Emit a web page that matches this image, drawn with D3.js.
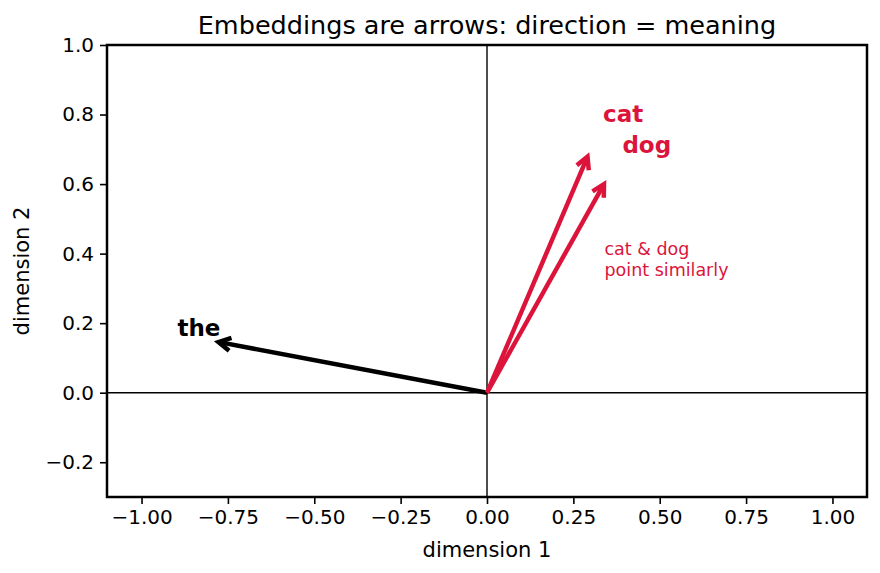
<!DOCTYPE html>
<html><head><meta charset="utf-8">
<script src="https://cdn.jsdelivr.net/npm/d3@7"></script>
<style>body{margin:0;background:#fff}svg text{font-family:"DejaVu Sans",sans-serif}</style>
</head><body><svg id="c" width="880" height="573"></svg>
<script>
const words = ["the", "cat", "dog"];
const vecX = [-0.8, 0.3, 0.35];
const vecY = [0.15, 0.7, 0.62];
const wordColors = ["#000000", "#dc143c", "#dc143c"];
const xTicks = [-1.0, -0.75, -0.5, -0.25, 0.0, 0.25, 0.5, 0.75, 1.0];
const yTicks = [-0.2, 0.0, 0.2, 0.4, 0.6, 0.8, 1.0];
const noteLines = ["cat & dog", "point similarly"];
const notePos = [0.34, 0.395];
const labelScale = 1.12;

const svg = d3.select("#c");
const L = 107, R = 867, T = 45, B = 497;
const x = d3.scaleLinear().domain([-1.1, 1.1]).range([L, R]);
const y = d3.scaleLinear().domain([-0.3, 1.0]).range([B, T]);

// zero lines
svg.append("line").attr("x1", x(0)).attr("x2", x(0)).attr("y1", T).attr("y2", B).attr("stroke", "#000").attr("stroke-width", 1.4);
svg.append("line").attr("x1", L).attr("x2", R).attr("y1", y(0)).attr("y2", y(0)).attr("stroke", "#000").attr("stroke-width", 1.4);

// axes
const fmtX = d => d3.format(".2f")(d).replace("-", "\u2212");
const fmtY = d => d3.format(".1f")(d).replace("-", "\u2212");
const gx = svg.append("g").attr("transform", `translate(0,${B})`)
  .call(d3.axisBottom(x).tickValues(xTicks).tickFormat(fmtX).tickSize(7).tickPadding(6));
const gy = svg.append("g").attr("transform", `translate(${L},0)`)
  .call(d3.axisLeft(y).tickValues(yTicks).tickFormat(fmtY).tickSize(7).tickPadding(6));
[gx, gy].forEach(g => {
  g.select(".domain").remove();
  g.selectAll(".tick line").attr("stroke", "#000").attr("stroke-width", 1.6);
  g.selectAll(".tick text").attr("fill", "#000").style("font-size", "20px").style("font-family", "DejaVu Sans");
});

// frame
svg.append("rect").attr("x", L).attr("y", T).attr("width", R - L).attr("height", B - T)
  .attr("fill", "none").attr("stroke", "#000").attr("stroke-width", 2.5);

// arrows
const ox = x(0), oy = y(0);
words.forEach((w, i) => {
  const tx = x(vecX[i]), ty = y(vecY[i]);
  const dx = tx - ox, dy = ty - oy, len = Math.hypot(dx, dy);
  const ux = dx / len, uy = dy / len;
  const ex = tx - ux * 8, ey = ty - uy * 8;
  const col = wordColors[i];
  svg.append("line").attr("x1", ox).attr("y1", oy).attr("x2", ex - ux * 2).attr("y2", ey - uy * 2)
    .attr("stroke", col).attr("stroke-width", 4.5);
  const hl = 12, hw = 6.5;
  const bx = ex - ux * hl, by = ey - uy * hl;
  const px = -uy, py = ux;
  svg.append("path")
    .attr("d", `M${bx + px * hw},${by + py * hw}L${ex},${ey}L${bx - px * hw},${by - py * hw}`)
    .attr("fill", "none").attr("stroke", col).attr("stroke-width", 4.5).attr("stroke-linejoin", "miter");
  svg.append("text").attr("x", x(vecX[i] * labelScale)).attr("y", y(vecY[i] * labelScale) + 1.5)
    .attr("fill", col).style("font-size", "23px").style("font-weight", "bold").text(w);
});

// note
const note = svg.append("text").attr("x", x(notePos[0])).attr("y", y(notePos[1]))
  .attr("fill", "#dc143c").style("font-size", "17.5px");
noteLines.forEach((t, i) => note.append("tspan").attr("x", x(notePos[0])).attr("dy", i === 0 ? 0 : 21).text(t));

// title & labels
svg.append("text").attr("x", (L + R) / 2).attr("y", 34).attr("text-anchor", "middle")
  .style("font-size", "25.5px").attr("fill", "#000").text("Embeddings are arrows: direction = meaning");
svg.append("text").attr("x", (L + R) / 2).attr("y", 557).attr("text-anchor", "middle")
  .style("font-size", "21px").attr("fill", "#000").text("dimension 1");
svg.append("text").attr("transform", `translate(29,${(T + B) / 2}) rotate(-90)`).attr("text-anchor", "middle")
  .style("font-size", "21px").attr("fill", "#000").text("dimension 2");
</script></body></html>
